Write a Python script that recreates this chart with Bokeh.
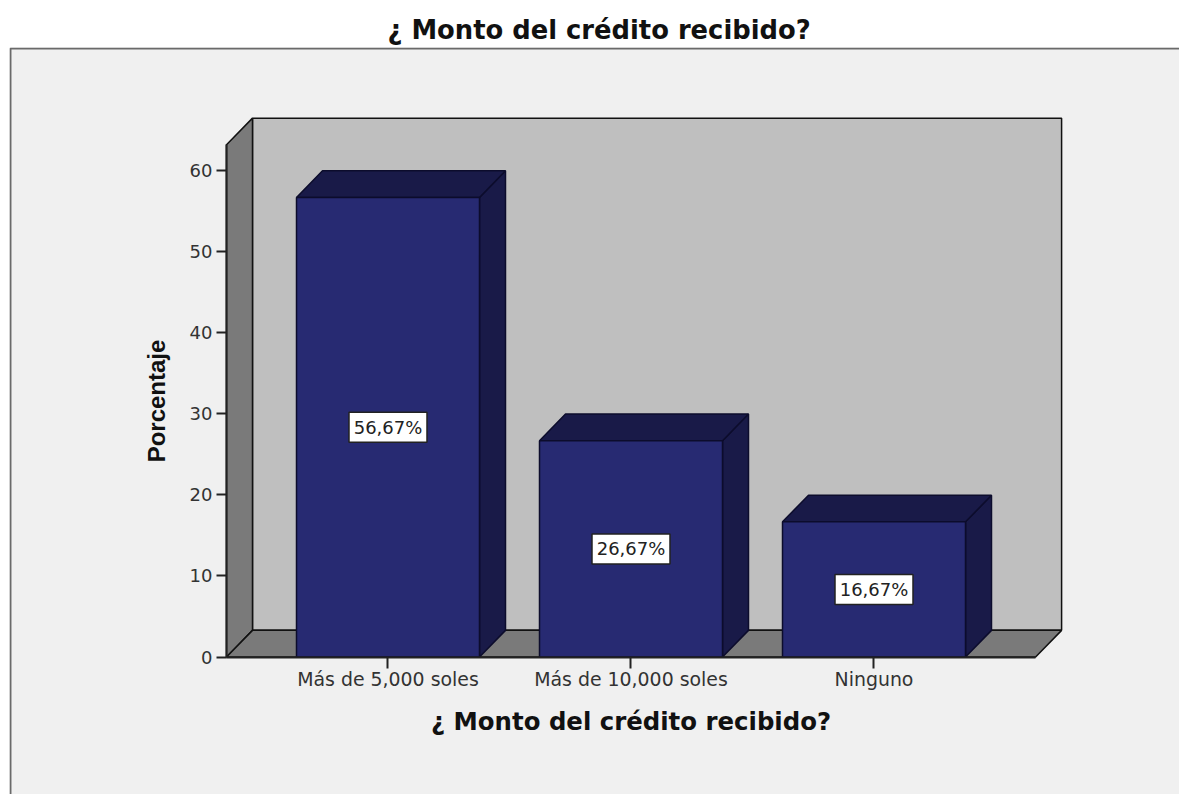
from bokeh.plotting import figure
from bokeh.embed import file_html
from bokeh.resources import INLINE
from bokeh.models import Range1d, FixedTicker, Title
from bokeh.core.properties import value

title_text = "¿ Monto del crédito recibido?"
y_label = "Porcentaje"
categories = ["Más de 5,000 soles", "Más de 10,000 soles", "Ninguno"]
percentages = [56.67, 26.67, 16.67]
percent_labels = ["56,67%", "26,67%", "16,67%"]
y_ticks = [0, 10, 20, 30, 40, 50, 60]

FRONT, DARK, WALL, SHADE, PANEL = "#272a72", "#191a48", "#bfbfbf", "#7a7a7a", "#f0f0f0"
W, H = 1179, 794
X_L, X_R, Y_T = -0.6646, 2.665, 63.16
DX, DY = 0.107, 3.29
BAR = 0.753
# data units of the plotting frame, which runs from the panel's corner to the page's edge
XS, XE = -1.5576, 3.2572
YS, YE = -16.95, 75.16
centers = list(range(len(categories)))

p = figure(width=W, height=H, output_backend="svg", toolbar_location=None,
           x_range=Range1d(XS, XE), y_range=Range1d(YS, YE),
           min_border_left=9, min_border_right=0, min_border_top=47, min_border_bottom=0,
           background_fill_color=PANEL, border_fill_color="white", outline_line_color=None)
p.grid.visible = False

p.add_layout(Title(text=title_text, align="left", offset=378, standoff=5,
                   text_font="DejaVu Sans", text_font_size="25.8px", text_font_style="bold", text_color="#111111"), "above")

# panel edge
p.line([XS + 0.004, XS + 0.004, XE], [YS, YE - 0.12, YE - 0.12], line_color="#6a6a6a", line_width=2)

yax = p.yaxis[0]
yax.fixed_location = X_L
yax.bounds = (0, Y_T)
yax.ticker = FixedTicker(ticks=y_ticks)
yax.axis_label = y_label
yax.axis_label_text_font = "Liberation Sans"
yax.axis_label_text_font_size = "24px"
yax.axis_label_text_font_style = "bold"
yax.axis_label_text_color = "#111111"
yax.axis_label_standoff = 17
yax.major_label_text_font = "DejaVu Sans"
yax.major_label_text_font_size = "18px"
yax.major_label_text_color = "#333333"
yax.major_label_standoff = 4
yax.major_tick_out = 10
yax.major_tick_in = 0
yax.minor_tick_line_color = None
yax.axis_line_color = "#222222"
yax.axis_line_width = 2
yax.major_tick_line_color = "#222222"
yax.major_tick_line_width = 2

xax = p.xaxis[0]
xax.fixed_location = 0
xax.bounds = (X_L, X_R)
xax.ticker = FixedTicker(ticks=centers)
xax.major_label_overrides = {i: c for i, c in enumerate(categories)}
xax.axis_label = title_text
xax.axis_label_text_font = "DejaVu Sans"
xax.axis_label_text_font_size = "24.4px"
xax.axis_label_text_font_style = "bold"
xax.axis_label_text_color = "#111111"
xax.axis_label_standoff = 13
xax.major_label_text_font = "DejaVu Sans"
xax.major_label_text_font_size = "18.9px"
xax.major_label_text_color = "#333333"
xax.major_label_standoff = 0
xax.major_tick_out = 11
xax.major_tick_in = 0
xax.minor_tick_line_color = None
xax.axis_line_color = "#222222"
xax.axis_line_width = 2
xax.major_tick_line_color = "#222222"
xax.major_tick_line_width = 2

# back wall, left wall, floor
wall_kw = dict(line_color="#111111", line_width=1.5)
p.patch([X_L + DX, X_R + DX, X_R + DX, X_L + DX], [DY, DY, Y_T + DY, Y_T + DY], fill_color=WALL, **wall_kw)
p.patch([X_L, X_L + DX, X_L + DX, X_L], [0, DY, Y_T + DY, Y_T], fill_color=SHADE, **wall_kw)
p.patch([X_L, X_R, X_R + DX, X_L + DX], [0, 0, DY, DY], fill_color=SHADE, **wall_kw)

# bars
bar_kw = dict(line_color="#0c0c2c", line_width=1.5)
for c, v in zip(centers, percentages):
    l, r = c - BAR / 2, c + BAR / 2
    p.patch([r, r + DX, r + DX, r], [0, DY, v + DY, v], fill_color=DARK, **bar_kw)
    p.patch([l, r, r + DX, l + DX], [v, v, v + DY, v + DY], fill_color=DARK, **bar_kw)
p.vbar(x=centers, top=percentages, bottom=0, width=BAR, fill_color=FRONT, **bar_kw)

# value labels
mids = [v / 2 for v in percentages]
p.rect(x=centers, y=mids, width=78, height=30, width_units="screen", height_units="screen",
       fill_color="white", line_color="#222222", line_width=1.5)
p.text(x=centers, y=mids, text=percent_labels, text_align="center", text_baseline="middle",
       text_font=value("DejaVu Sans"), text_font_size="18px", text_color="#222222")

open("out.html", "w").write(file_html(p, INLINE))
